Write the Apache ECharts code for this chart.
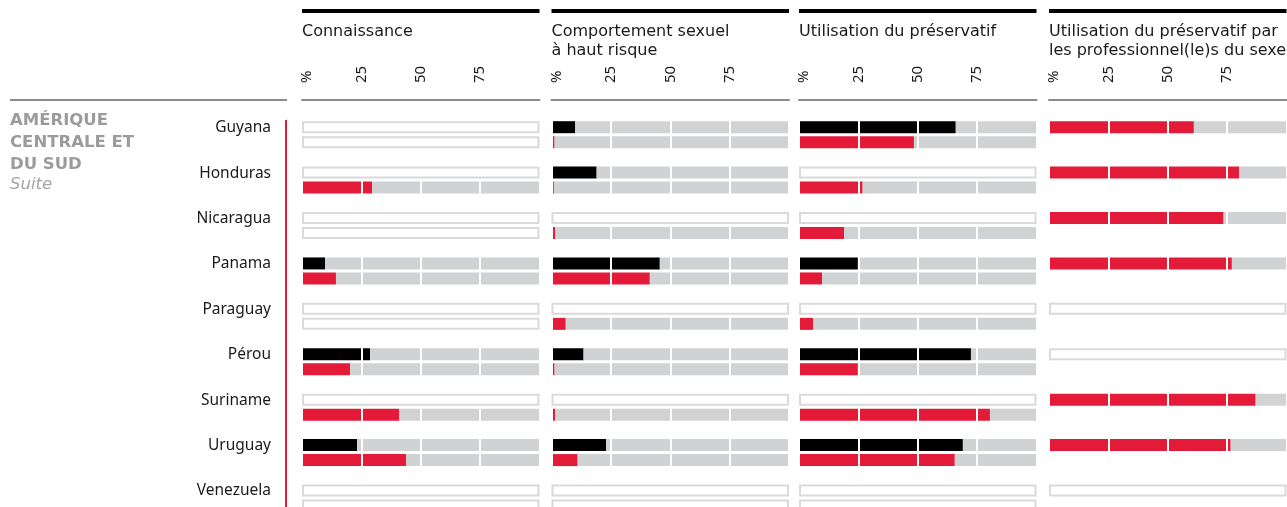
<!DOCTYPE html>
<html>
<head>
<meta charset="utf-8">
<script src="https://cdn.jsdelivr.net/npm/echarts@6/dist/echarts.min.js"></script>
<style>
    html, body { margin: 0; background: #fff; }
    #main { width: 1287px; height: 507px; }
</style>
</head>
<body>
<div id="main"></div>
<script>
    const countries = ['Guyana', 'Honduras', 'Nicaragua', 'Panama', 'Paraguay', 'Pérou', 'Suriname', 'Uruguay', 'Venezuela'];
    const panelTitles = ['Connaissance', 'Comportement sexuel\nà haut risque', 'Utilisation du préservatif', 'Utilisation du préservatif par\nles professionnel(le)s du sexe'];
    const tickLabels = ['%', '25', '50', '75'];

    // null = pas de données (barre vide)
    const connaissanceNoir = [null, null, null, 9.7, null, 28.7, null, 23.2, null];
    const connaissanceRouge = [null, 29.5, null, 14.3, null, 20.3, 41, 43.9, null];
    const risqueNoir = [10, 19, null, 45.6, null, 13.5, null, 23, null];
    const risqueRouge = [1.3, 1, 1.5, 41.4, 6, 1.3, 1.5, 11, null];
    const preservatifNoir = [66, null, null, 24.8, null, 72.4, null, 69, null];
    const preservatifRouge = [48.4, 26.8, 19, 9.7, 5.9, 24.8, 80.4, 65.6, null];
    const professionnelsRouge = [61, 80, 73.5, 77, null, null, 87, 76.5, null];

    const RED = '#e31a38';
    const GRAY = '#d1d2d4';
    const lefts = [302, 551.5, 799, 1049];
    const panelWidth = 237.5;
    const gridTop = 134.7;

    const panels = [
        { top: connaissanceNoir, topColor: '#000', bottom: connaissanceRouge },
        { top: risqueNoir, topColor: '#000', bottom: risqueRouge },
        { top: preservatifNoir, topColor: '#000', bottom: preservatifRouge },
        { top: professionnelsRouge, topColor: RED, bottom: null }
    ];

    let chart = echarts.init(document.getElementById('main'));

    let grids = [], xAxes = [], yAxes = [], series = [], titles = [], graphics = [];

    function addBars(i, pos, values, color, hasOutline) {
        let vals = values || countries.map(() => null);
        let base = { type: 'bar', xAxisIndex: i, yAxisIndex: i, stack: 'p' + i + pos, barWidth: 12, barGap: '25%', silent: true };
        series.push(Object.assign({}, base, { data: vals, itemStyle: { color: color } }));
        series.push(Object.assign({}, base, { data: vals.map(v => v == null ? null : 100 - v), itemStyle: { color: GRAY } }));
        series.push(Object.assign({}, base, {
            z: 6,
            data: vals.map(v => (v == null && hasOutline) ? 100 : null),
            itemStyle: { color: '#fff', borderColor: '#dadada', borderWidth: 2 }
        }));
    }

    panels.forEach((p, i) => {
        // pas de boundaryGap : un pays par graduation, 45.4 px d'écart
        grids.push({ left: lefts[i], top: gridTop, width: panelWidth, height: 363.3 });
        xAxes.push({
            type: 'value', gridIndex: i, min: 0, max: 100, interval: 25,
            position: 'top', offset: gridTop - 100,
            axisLine: { show: true, lineStyle: { color: '#8c8c8c', width: 2 } },
            axisTick: { show: false },
            splitLine: { show: false },
            axisLabel: {
                rotate: -90, margin: 17, fontSize: 15, color: '#1a1a1a', fontFamily: 'Noto Sans',
                formatter: v => v === 0 ? '{p|%}' : (tickLabels[v / 25] || ''),
                rich: { p: { fontSize: 15, color: '#1a1a1a', fontFamily: 'Noto Sans', padding: [10, 0, 0, 0] } }
            }
        });
        yAxes.push({
            type: 'category', gridIndex: i, data: countries, inverse: true, boundaryGap: false,
            axisLine: { show: false }, axisTick: { show: false }, splitLine: { show: false },
            axisLabel: {
                show: i === 0, interval: 0, margin: 31, fontSize: 15.5, color: '#1a1a1a',
                fontFamily: 'Noto Sans', verticalAlign: 'bottom', lineHeight: 14
            }
        });
        titles.push({
            text: panelTitles[i], left: lefts[i], top: 22, padding: 0,
            textStyle: { fontSize: 16, fontWeight: 'normal', color: '#1a1a1a', fontFamily: 'DejaVu Sans', lineHeight: 19 }
        });
        graphics.push({ type: 'rect', shape: { x: lefts[i], y: 9, width: panelWidth, height: 4 }, style: { fill: '#000' } });

        addBars(i, 't', p.top, p.topColor, true);
        addBars(i, 'b', p.bottom, RED, p.bottom != null);
    });

    // grilles blanches à 25/50/75 par-dessus les barres, sur toute la hauteur
    panels.forEach((p, i) => {
        grids.push({ left: lefts[i], top: 112, width: panelWidth, height: 395 });
        xAxes.push({
            type: 'value', gridIndex: 4 + i, min: 0, max: 100, interval: 25, z: 5,
            axisLine: { show: false }, axisTick: { show: false }, axisLabel: { show: false },
            splitLine: { show: true, lineStyle: { color: '#fff', width: 2 } }
        });
        yAxes.push({ type: 'value', gridIndex: 4 + i, show: false });
    });

    graphics.push({ type: 'rect', shape: { x: 10, y: 99, width: 277, height: 2 }, style: { fill: '#8c8c8c' } });
    graphics.push({ type: 'rect', shape: { x: 285, y: 120, width: 2, height: 400 }, style: { fill: RED } });
    graphics.push({
        type: 'text', left: 10, top: 110,
        style: { text: 'AMÉRIQUE\nCENTRALE ET\nDU SUD', fill: '#9b9b9b', font: 'bold 16.5px "DejaVu Sans"', lineHeight: 21.7 }
    });
    graphics.push({
        type: 'text', left: 10, top: 176,
        style: { text: 'Suite', fill: '#a5a5a5', font: 'italic 16.5px "DejaVu Sans"' }
    });

    chart.setOption({
        animation: false,
        title: titles,
        grid: grids,
        xAxis: xAxes,
        yAxis: yAxes,
        series: series,
        graphic: graphics
    });
</script>
</body>
</html>
